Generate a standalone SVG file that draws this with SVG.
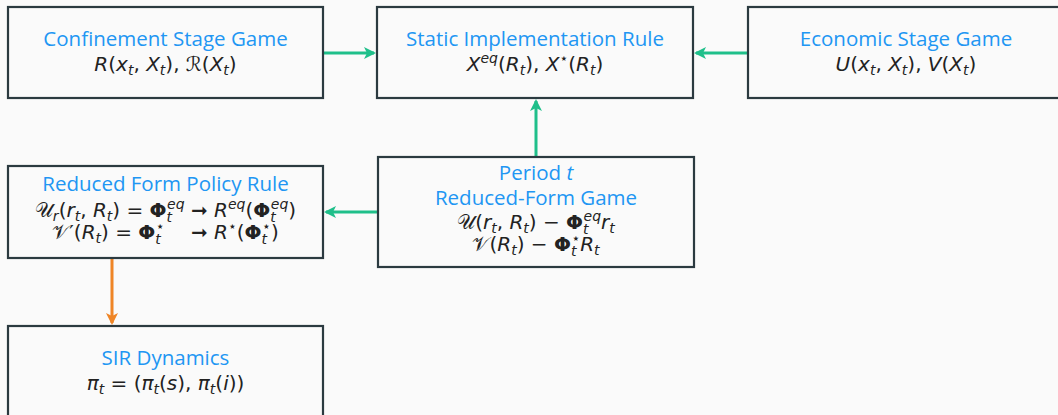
<svg xmlns="http://www.w3.org/2000/svg" width="1058" height="415" viewBox="0 0 1058 415">
<defs>
<style>
.box{fill:#fafafa;stroke:#2b3a40;stroke-width:2.2}
.t{font-family:"Open Sans","Noto Sans",sans-serif;font-size:20.5px;fill:#2196f3;text-anchor:middle}
.m{font-family:"DejaVu Sans","Open Sans",sans-serif;font-size:20px;fill:#222;text-anchor:middle}
.i{font-style:italic}
.b{font-weight:bold}
.s{font-size:14px;font-style:italic}
.g{stroke:#1fbf8a;stroke-width:3;fill:none}
.o{stroke:#ef8526;stroke-width:3;fill:none}
</style>
<marker id="ag" markerWidth="12" markerHeight="12" refX="10" refY="6" orient="auto" markerUnits="userSpaceOnUse"><path d="M0,0 L12,6 L0,12 L3,6 Z" fill="#1fbf8a"/></marker>
<marker id="ao" markerWidth="12" markerHeight="12" refX="10" refY="6" orient="auto" markerUnits="userSpaceOnUse"><path d="M0,0 L12,6 L0,12 L3,6 Z" fill="#ef8526"/></marker>
</defs>
<rect width="1058" height="415" fill="#fafafa"/>
<g id="connectors">
<line class="g" x1="323" y1="53" x2="374" y2="53" marker-end="url(#ag)"/>
<line class="g" x1="748" y1="53" x2="696" y2="53" marker-end="url(#ag)"/>
<line class="g" x1="536" y1="157" x2="536" y2="101" marker-end="url(#ag)"/>
<line class="g" x1="378" y1="212" x2="326" y2="212" marker-end="url(#ag)"/>
<line class="o" x1="112" y1="258" x2="112" y2="323" marker-end="url(#ao)"/>
</g>
<g id="confinement">
<rect class="box" x="8" y="7" width="315" height="91"/>
<text class="t" x="165.5" y="46">Confinement Stage Game</text>
<text class="m" x="165.5" y="71"><tspan class="i">R</tspan>(<tspan class="i">x</tspan><tspan class="s" dy="4">t</tspan><tspan dy="-4">, </tspan><tspan class="i">X</tspan><tspan class="s" dy="4">t</tspan><tspan dy="-4">), ℛ(</tspan><tspan class="i">X</tspan><tspan class="s" dy="4">t</tspan><tspan dy="-4">)</tspan></text>
</g>
<g id="static">
<rect class="box" x="377" y="7" width="316" height="91"/>
<text class="t" x="535" y="46">Static Implementation Rule</text>
<text class="m" x="535" y="71"><tspan class="i">X</tspan><tspan class="s" dy="-8">eq</tspan><tspan dy="8">(</tspan><tspan class="i">R</tspan><tspan class="s" dy="4">t</tspan><tspan dy="-4">), </tspan><tspan class="i">X</tspan><tspan class="s" dy="-8">⋆</tspan><tspan dy="8">(</tspan><tspan class="i">R</tspan><tspan class="s" dy="4">t</tspan><tspan dy="-4">)</tspan></text>
</g>
<g id="economic">
<rect class="box" x="748" y="7" width="318" height="91"/>
<text class="t" x="906" y="46">Economic Stage Game</text>
<text class="m" x="906" y="71"><tspan class="i">U</tspan>(<tspan class="i">x</tspan><tspan class="s" dy="4">t</tspan><tspan dy="-4">, </tspan><tspan class="i">X</tspan><tspan class="s" dy="4">t</tspan><tspan dy="-4">), </tspan><tspan class="i">V</tspan>(<tspan class="i">X</tspan><tspan class="s" dy="4">t</tspan><tspan dy="-4">)</tspan></text>
</g>
<g id="policy">
<rect class="box" x="8" y="166" width="315" height="92"/>
<text class="t" x="165.5" y="191">Reduced Form Policy Rule</text>
<text class="m" x="165.5" y="217">𝒰<tspan class="s" dy="4">r</tspan><tspan dy="-4">(</tspan><tspan class="i">r</tspan><tspan class="s" dy="4">t</tspan><tspan dy="-4">, </tspan><tspan class="i">R</tspan><tspan class="s" dy="4">t</tspan><tspan dy="-4">) = </tspan><tspan class="b">Φ</tspan><tspan class="s" dy="5">t</tspan><tspan class="s" dx="-5" dy="-13">eq</tspan><tspan dy="8"> ➞ </tspan><tspan class="i">R</tspan><tspan class="s" dy="-8">eq</tspan><tspan dy="8">(</tspan><tspan class="b">Φ</tspan><tspan class="s" dy="5">t</tspan><tspan class="s" dx="-5" dy="-13">eq</tspan><tspan dy="8">)</tspan></text>
<text class="m" x="165.5" y="239">𝒱′(<tspan class="i">R</tspan><tspan class="s" dy="4">t</tspan><tspan dy="-4">) = </tspan><tspan class="b">Φ</tspan><tspan class="s" dy="5">t</tspan><tspan class="s" dx="-5" dy="-13">⋆</tspan><tspan dy="8" dx="20"> ➞ </tspan><tspan class="i">R</tspan><tspan class="s" dy="-8">⋆</tspan><tspan dy="8">(</tspan><tspan class="b">Φ</tspan><tspan class="s" dy="5">t</tspan><tspan class="s" dx="-5" dy="-13">⋆</tspan><tspan dy="8">)</tspan></text>
</g>
<g id="period">
<rect class="box" x="378" y="157" width="316" height="110"/>
<text class="t" x="536" y="180">Period <tspan class="i">t</tspan></text>
<text class="t" x="536" y="205">Reduced-Form Game</text>
<text class="m" x="536" y="229">𝒰(<tspan class="i">r</tspan><tspan class="s" dy="4">t</tspan><tspan dy="-4">, </tspan><tspan class="i">R</tspan><tspan class="s" dy="4">t</tspan><tspan dy="-4">) − </tspan><tspan class="b">Φ</tspan><tspan class="s" dy="5">t</tspan><tspan class="s" dx="-5" dy="-13">eq</tspan><tspan class="i" dy="8">r</tspan><tspan class="s" dy="4">t</tspan></text>
<text class="m" x="536" y="251">𝒱(<tspan class="i">R</tspan><tspan class="s" dy="4">t</tspan><tspan dy="-4">) − </tspan><tspan class="b">Φ</tspan><tspan class="s" dy="5">t</tspan><tspan class="s" dx="-5" dy="-13">⋆</tspan><tspan class="i" dy="8">R</tspan><tspan class="s" dy="4">t</tspan></text>
</g>
<g id="sir">
<rect class="box" x="8" y="326" width="315" height="100"/>
<text class="t" x="165.5" y="365">SIR Dynamics</text>
<text class="m" x="165.5" y="390"><tspan class="i">π</tspan><tspan class="s" dy="4">t</tspan><tspan dy="-4"> = (</tspan><tspan class="i">π</tspan><tspan class="s" dy="4">t</tspan><tspan dy="-4">(</tspan><tspan class="i">s</tspan>), <tspan class="i">π</tspan><tspan class="s" dy="4">t</tspan><tspan dy="-4">(</tspan><tspan class="i">i</tspan>))</text>
</g>
</svg>
